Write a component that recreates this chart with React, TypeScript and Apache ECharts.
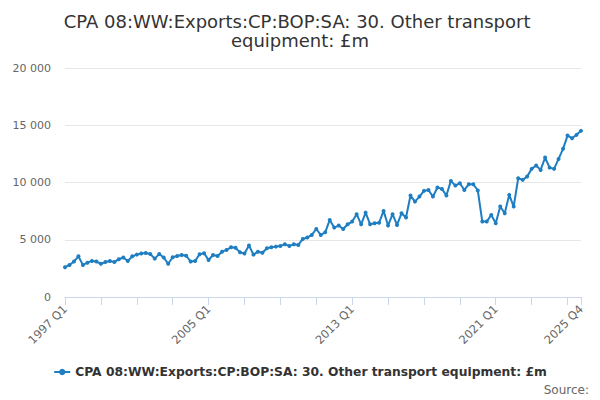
import React, { useEffect, useRef } from "react";
import * as echarts from "echarts";

const TITLE = "CPA 08:WW:Exports:CP:BOP:SA: 30. Other transport equipment: £m";
const SERIES_NAME = "CPA 08:WW:Exports:CP:BOP:SA: 30. Other transport equipment: £m";
const START_YEAR = 1997;
const END_YEAR = 2025;
const QUARTERS = ["Q1", "Q2", "Q3", "Q4"];

// Values by period (£m)
const values1997to2004 = [
  2600, 2800, 3100, 3550, 2800, 3000, 3150, 3100,
  2900, 3050, 3150, 3050, 3300, 3450, 3150, 3550,
  3700, 3800, 3850, 3750, 3350, 3750, 3450, 2900,
  3470, 3580, 3670, 3610, 3100, 3150, 3730, 3820,
];
const values2005to2012 = [
  3230, 3670, 3580, 3960, 4110, 4340, 4300, 3900,
  3800, 4500, 3700, 3960, 3870, 4250, 4350, 4400,
  4460, 4600, 4460, 4600, 4545, 5070, 5190, 5420,
  5940, 5420, 5650, 6730, 6060, 6240, 5940, 6350,
];
const values2013to2020 = [
  6590, 7230, 6350, 7370, 6350, 6440, 6480, 7520,
  6240, 7230, 6290, 7310, 6940, 8860, 8330, 8770,
  9270, 9350, 8770, 9560, 9440, 8860, 10140, 9730,
  9940, 9350, 9850, 9850, 9300, 6590, 6590, 7170,
];
const values2021to2025 = [
  6440, 7900, 7310, 8920, 7900, 10370, 10230, 10520,
  11190, 11480, 11100, 12180, 11300, 11190, 12060, 12940,
  14100, 13870, 14160, 14510,
];

const values = [...values1997to2004, ...values2005to2012, ...values2013to2020, ...values2021to2025];

const categories: string[] = [];
for (let y = START_YEAR; y <= END_YEAR; y++) {
  for (const q of QUARTERS) categories.push(`${y} ${q}`);
}

const fmt = (v: number) => String(v).replace(/\B(?=(\d{3})+(?!\d))/g, " ");

export default function App() {
  const ref = useRef<HTMLDivElement>(null);
  useEffect(() => {
    document.body.style.margin = "0";
    if (!ref.current) return;
    const chart = echarts.init(ref.current, undefined, { renderer: "svg" });
    const last = categories.length - 1;
    chart.setOption({
      animation: false,
      backgroundColor: "#ffffff",
      title: {
        text: TITLE,
        left: "center",
        top: 7,
        textStyle: {
          fontFamily: "DejaVu Sans",
          fontSize: 18,
          fontWeight: "normal",
          color: "#333333",
          width: 500,
          overflow: "break",
          lineHeight: 19,
        },
      },
      legend: {
        bottom: 17,
        left: "center",
        itemWidth: 16,
        itemHeight: 8,
        textStyle: {
          fontFamily: "DejaVu Sans",
          fontSize: 12.3,
          fontWeight: "bold",
          color: "#333333",
        },
        data: [SERIES_NAME],
      },
      grid: { left: 65, right: 19, top: 68, bottom: 103 },
      xAxis: {
        type: "category",
        data: categories,
        boundaryGap: false,
        axisLine: { lineStyle: { color: "#ccd6eb" } },
        axisTick: {
          alignWithLabel: true,
          length: 8,
          lineStyle: { color: "#ccd6eb" },
          interval: (i: number) => i % 8 === 0 || i === last,
        },
        axisLabel: {
          rotate: 45,
          fontFamily: "DejaVu Sans",
          fontSize: 11.5,
          color: "#666666",
          margin: 10,
          interval: (i: number) => i % 32 === 0 || i === last,
        },
        splitLine: { show: false },
      },
      yAxis: {
        type: "value",
        min: 0,
        max: 20000,
        interval: 5000,
        axisLine: { show: false },
        axisTick: { show: false },
        axisLabel: {
          fontFamily: "DejaVu Sans",
          fontSize: 11,
          color: "#666666",
          margin: 14,
          formatter: (v: number) => fmt(v),
        },
        splitLine: { lineStyle: { color: "#e6e6e6" } },
      },
      series: [
        {
          name: SERIES_NAME,
          type: "line",
          data: values,
          symbol: "circle",
          symbolSize: 4,
          showSymbol: true,
          showAllSymbol: true,
          lineStyle: { width: 2, color: "#1f7ec2" },
          itemStyle: { color: "#1f7ec2" },
        },
      ],
      graphic: [
        {
          type: "text",
          right: 11,
          bottom: 4,
          style: {
            text: "Source:",
            fontFamily: "DejaVu Sans",
            fontSize: 12,
            fill: "#666666",
          },
        },
      ],
    });
    return () => chart.dispose();
  }, []);
  return <div ref={ref} style={{ width: 600, height: 400 }} />;
}
